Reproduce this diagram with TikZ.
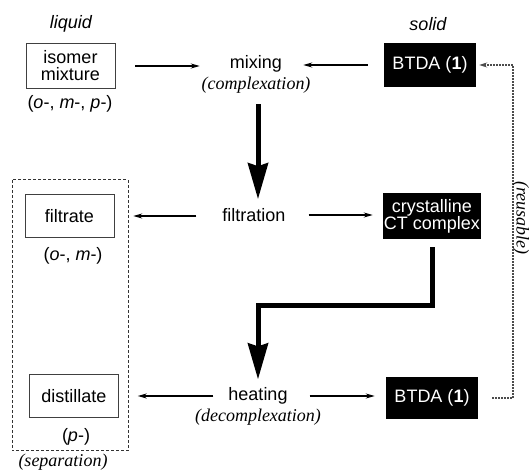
\documentclass[tikz,border=0pt]{standalone}
\usepackage{fontspec}
\setmainfont{Liberation Serif}
\setsansfont{Liberation Sans}
\usetikzlibrary{arrows.meta,positioning}
\tikzset{
    lbl/.style={font=\sffamily\fontsize{18}{17}\selectfont,align=center,inner sep=0pt},
    note/.style={font=\itshape\fontsize{18}{18}\selectfont,inner sep=0pt},
    phase/.style={font=\sffamily\itshape\fontsize{18}{18}\selectfont,inner sep=0pt},
    white box/.style={lbl,draw=black!75,thin,minimum width=89pt,minimum height=43pt},
    black box/.style={lbl,fill=black,text=white,minimum height=44pt},
    arr/.style={-{Stealth[length=9pt,width=5pt]},line width=1.5pt},
    big arr/.style={-{Stealth[length=36pt,width=20pt,inset=3pt]},line width=5pt},
    reuse line/.style={-{Stealth[length=8pt,width=5pt]},black!70,line width=1.2pt,dash pattern=on 1.5pt off 1.5pt},
    sep box/.style={black!80,line width=1pt,dash pattern=on 3pt off 2pt},
}

\begin{document}
\begin{tikzpicture}[x=1pt,y=-1pt]
    \useasboundingbox (0,0) rectangle (531,470);
    % headings
    \node[phase] (liq) at (71,24) {liquid};
    \node[phase] (sol) at (428,24) {solid};
    % left column
    \node[white box,minimum height=45pt] (iso) at (70.5,66) {isomer\\mixture};
    \node[lbl] (isoc) at (70,104) {(\textit{o}-, \textit{m}-, \textit{p}-)};
    \node[white box] (filtr) at (69.5,216) {filtrate};
    \node[lbl] (filtrc) at (73,256) {(\textit{o}-, \textit{m}-)};
    \node[white box] (dist) at (74,396) {distillate};
    \node[lbl] (distc) at (76,437) {(\textit{p}-)};
    \draw[sep box] (12,180) rectangle (128,451);
    \node[note] (sep) at (63,462) {(separation)};
    % middle column
    \node[lbl] (mix) at (256,64) {mixing};
    \node[note,below=4pt of mix] (cplx) {(complexation)};
    \node[lbl] (filt) at (254,215) {filtration};
    \node[lbl] (heat) at (258,396) {heating};
    \node[note,below=4pt of heat] (dcplx) {(decomplexation)};
    % right column
    \node[black box,minimum width=92pt] (btda) at (430,65) {BTDA (\textbf{1})};
    \node[black box,minimum width=98pt,minimum height=46pt] (ct) at (432,216) {crystalline\\CT complex};
    \node[black box,minimum width=92pt,minimum height=42pt] (btdb) at (432,398) {BTDA (\textbf{1})};
    \coordinate (bend) at (340,306);
    \coordinate (rt) at (513,0);

    \draw[arr,shorten <=20pt,shorten >=30pt] (iso.east) -- (iso.east -| mix.west);
    \draw[arr,shorten <=16pt,shorten >=21pt] (btda.west) -- (btda.west -| mix.east);
    \draw[arr,shorten <=26pt,shorten >=19pt] (filtr.east -| filt.west) -- (filtr.east);
    \draw[arr,shorten <=23pt,shorten >=10pt] (filt.east) -- (filt.east -| ct.west);
    \draw[arr,shorten <=15pt,shorten >=19pt] (dist.east -| heat.west) -- (dist.east);
    \draw[arr,shorten <=22pt,shorten >=11pt] (heat.east) -- (heat.east -| btdb.west);

    \draw[big arr,shorten <=11pt,shorten >=9pt] (cplx.south -| 258,0) -- (filt.north -| 258,0);
    \draw[big arr,shorten <=8pt,shorten >=8pt] (ct.south) |- (bend) -| (heat.north -| 258,0);

    \draw[reuse line,shorten <=14pt,shorten >=3pt] (btdb.east) -- (btdb.east -| rt) |- (btda.east);
    \node[note,rotate=-90] (reuse) at (521,218) {(reusable)};
\end{tikzpicture}
\end{document}
